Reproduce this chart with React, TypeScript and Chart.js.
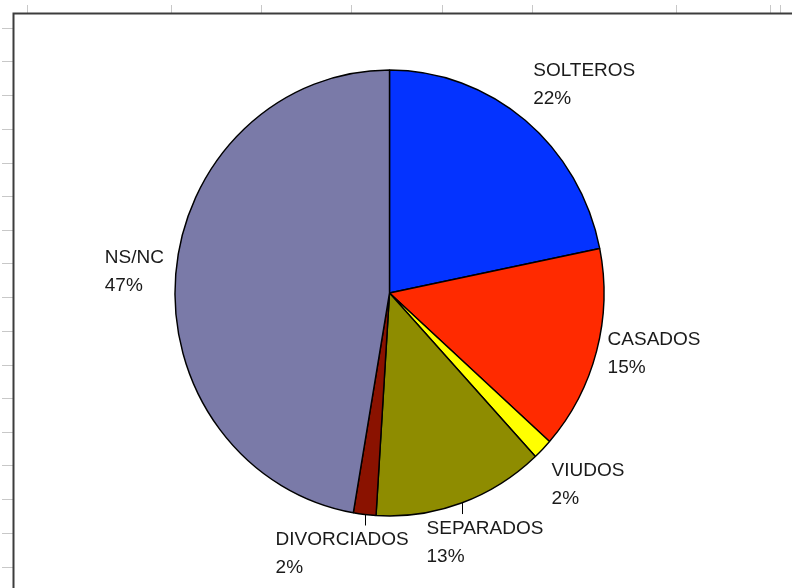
import React, { useEffect, useRef } from "react";
import { Chart, registerables } from "chart.js";

Chart.register(...registerables);

// ---- data ----
const categories = ["SOLTEROS", "CASADOS", "VIUDOS", "SEPARADOS", "DIVORCIADOS", "NS/NC"];
const values = [21.8, 14.8, 1.5, 12.9, 1.7, 47.3];
const colors = ["#0433FF", "#FF2A00", "#FFFF00", "#8E8C00", "#8A1200", "#7A7AA8"];

// ---- layout / style constants ----
const X_SCALE = 0.962; // pie is drawn slightly squeezed horizontally
const labelOffsets = [
  { dx: 8, dy: -44, leader: 0 },
  { dx: 11, dy: -6, leader: 0 },
  { dx: 9, dy: 27, leader: 0 },
  { dx: -35, dy: 31, leader: 11 },
  { dx: -89, dy: 31, leader: 11 },
  { dx: -71, dy: -11, leader: 0 },
];

// ---- frame decoration (spreadsheet-like border) ----
const topTicks = [27, 171, 261, 351, 442, 532, 676, 770, 780];
const leftTicks = [28, 61, 95, 129, 163, 196, 230, 263, 297, 331, 365, 398, 432, 465, 499, 533, 567];

const framePlugin = {
  id: "frame",
  beforeDraw(chart: any) {
    const ctx = chart.ctx;
    ctx.save();
    ctx.fillStyle = "#ffffff";
    ctx.fillRect(0, 0, chart.width, chart.height);
    ctx.strokeStyle = "#c8c8c8";
    ctx.lineWidth = 1;
    topTicks.forEach((x) => {
      ctx.beginPath();
      ctx.moveTo(x + 0.5, 5);
      ctx.lineTo(x + 0.5, 13);
      ctx.stroke();
    });
    leftTicks.forEach((y) => {
      ctx.beginPath();
      ctx.moveTo(2, y + 0.5);
      ctx.lineTo(13, y + 0.5);
      ctx.stroke();
    });
    ctx.strokeStyle = "#3c3c3c";
    ctx.lineWidth = 2;
    ctx.beginPath();
    ctx.moveTo(13.5, chart.height);
    ctx.lineTo(13.5, 13.5);
    ctx.lineTo(chart.width, 13.5);
    ctx.stroke();
    ctx.restore();
  },
};

const pieShapePlugin = {
  id: "pieShape",
  beforeDatasetsDraw(chart: any) {
    const arc = chart.getDatasetMeta(0).data[0];
    const ctx = chart.ctx;
    ctx.save();
    ctx.translate(arc.x, arc.y);
    ctx.scale(X_SCALE, 1);
    ctx.translate(-arc.x, -arc.y);
  },
  afterDatasetsDraw(chart: any) {
    const ctx = chart.ctx;
    ctx.restore();
    const meta = chart.getDatasetMeta(0);
    const data = chart.data.datasets[0].data as number[];
    const total = data.reduce((a: number, b: number) => a + b, 0);
    ctx.save();
    ctx.font = '19px "Liberation Sans", Arial, sans-serif';
    ctx.fillStyle = "#1a1a1a";
    ctx.textAlign = "left";
    ctx.textBaseline = "alphabetic";
    meta.data.forEach((a: any, i: number) => {
      const mid = (a.startAngle + a.endAngle) / 2;
      const px = a.x + Math.cos(mid) * a.outerRadius * X_SCALE;
      const py = a.y + Math.sin(mid) * a.outerRadius;
      const o = labelOffsets[i];
      if (o.leader) {
        ctx.strokeStyle = "#000";
        ctx.lineWidth = 1;
        ctx.beginPath();
        ctx.moveTo(Math.round(px) + 0.5, py);
        ctx.lineTo(Math.round(px) + 0.5, py + o.leader);
        ctx.stroke();
      }
      const pct = Math.round((data[i] / total) * 100) + "%";
      ctx.fillText(categories[i], px + o.dx, py + o.dy);
      ctx.fillText(pct, px + o.dx, py + o.dy + 28);
    });
    ctx.restore();
  },
};

export default function App() {
  const ref = useRef<HTMLCanvasElement | null>(null);
  useEffect(() => {
    if (!ref.current) return;
    const chart = new Chart(ref.current, {
      type: "pie",
      data: {
        labels: categories,
        datasets: [
          {
            data: values,
            backgroundColor: colors,
            borderColor: "#000000",
            borderWidth: 1.5,
            hoverOffset: 0,
          },
        ],
      },
      options: {
        responsive: false,
        animation: false,
        radius: 223,
        layout: { padding: { left: 60, right: 73, top: 60, bottom: 62 } },
        plugins: {
          legend: { display: false },
          tooltip: { enabled: false },
        },
        events: [],
      } as any,
      plugins: [framePlugin, pieShapePlugin],
    });
    return () => chart.destroy();
  }, []);
  return (
    <div style={{ position: "fixed", left: 0, top: 0, width: 792, height: 588 }}>
      <canvas ref={ref} width={792} height={588} style={{ display: "block" }} />
    </div>
  );
}
